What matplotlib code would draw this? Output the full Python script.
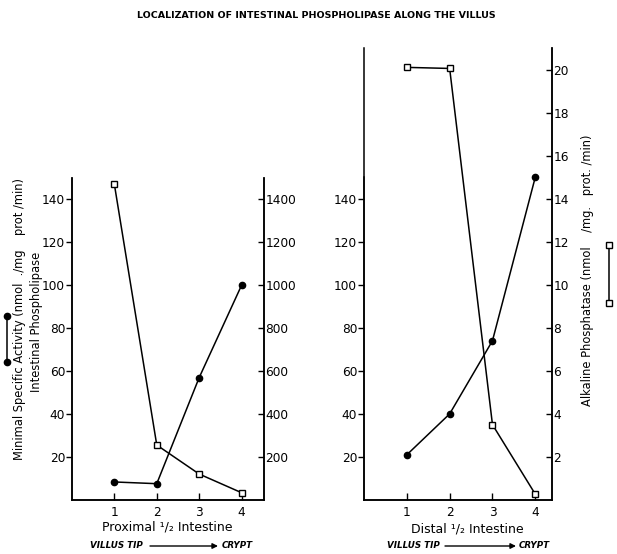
import matplotlib
matplotlib.use("Agg")
import matplotlib.pyplot as plt
from matplotlib.lines import Line2D
from matplotlib.patches import FancyArrowPatch

# data
segments = [1, 2, 3, 4]
prox_phospholipase = [8.4, 7.6, 57, 100]        # left axis, filled circles
prox_alk_phos = [1470, 256, 121, 34]            # right axis, open squares
dist_phospholipase = [21, 40, 74, 150]          # left axis, filled circles
dist_alk_phos = [20.1, 20.05, 3.5, 0.27]        # right axis, open squares

left_ticks = [20, 40, 60, 80, 100, 120, 140]
prox_right_ticks = [200, 400, 600, 800, 1000, 1200, 1400]
dist_right_ticks = [2, 4, 6, 8, 10, 12, 14, 16, 18, 20]

plt.rcParams['font.family'] = ['DejaVu Sans']
plt.rcParams['font.size'] = 8.7

W, H = 617, 554
fig = plt.figure(figsize=(W / 100, H / 100), dpi=100)


def fx(px):
    return px / W


def fy(py):
    return 1 - py / H


def style(ax, twin):
    ax.spines['top'].set_visible(False)
    twin.spines['top'].set_visible(False)
    for a in (ax, twin):
        a.spines[:].set_linewidth(1.1)
    ax.tick_params(axis='y', direction='out', length=4, width=1, pad=1)
    ax.tick_params(axis='x', direction='in', length=5, width=1, pad=4)
    twin.tick_params(axis='y', direction='in', length=4, width=1, pad=1)
    ax.set_xticks(segments)


def draw(ax, twin, closed, opened):
    ax.plot(segments, closed, color='black', lw=1.1, marker='o', ms=4.5,
            mfc='black', mec='black', clip_on=False, zorder=3)
    twin.plot(segments, opened, color='black', lw=1.1, marker='s', ms=4,
              mfc='white', mec='black', mew=1, clip_on=False, zorder=3)


# proximal panel
ax1 = fig.add_axes([fx(72), fy(500), fx(264 - 72), (500 - 178) / H])
tw1 = ax1.twinx()
ax1.set_xlim(0, 4.53)
ax1.set_ylim(0, 150)
tw1.set_ylim(0, 1500)
ax1.set_yticks(left_ticks)
tw1.set_yticks(prox_right_ticks)
style(ax1, tw1)
draw(ax1, tw1, prox_phospholipase, prox_alk_phos)

# distal panel
ax2 = fig.add_axes([fx(364), fy(500), fx(552 - 364), (500 - 48) / H])
tw2 = ax2.twinx()
ax2.set_xlim(0, 4.39)
ax2.set_ylim(0, 210)
tw2.set_ylim(0, 21)
ax2.spines['left'].set_bounds(0, 150)
ax2.set_yticks(left_ticks)
tw2.set_yticks(dist_right_ticks)
style(ax2, tw2)
draw(ax2, tw2, dist_phospholipase, dist_alk_phos)

fig.text(fx(316), fy(15), 'LOCALIZATION OF INTESTINAL PHOSPHOLIPASE ALONG THE VILLUS',
         ha='center', va='center', fontsize=6.8, fontweight='bold',
         family='Liberation Sans Narrow')

# axis titles
fig.text(fx(20), fy(319), 'Minimal Specific Activity (nmol  ./mg    prot /min)',
         rotation=90, ha='center', va='center', fontsize=8.3)
fig.text(fx(37), fy(322), 'Intestinal Phospholipase',
         rotation=90, ha='center', va='center', fontsize=8.3)
fig.text(fx(587), fy(270), 'Alkaline Phosphatase (nmol    /mg.   prot. /min)',
         rotation=90, ha='center', va='center', fontsize=8.3)

# symbol keys
fig.add_artist(Line2D([fx(7), fx(7)], [fy(316), fy(362)], color='black', lw=1.1,
                      marker='o', ms=4.5, mfc='black'))
fig.add_artist(Line2D([fx(609), fx(609)], [fy(245), fy(303)], color='black', lw=1.1,
                      marker='s', ms=4, mfc='white', mew=1))

# x captions
fig.text(fx(167), fy(527), 'Proximal \u00b9/\u2082 Intestine', ha='center', va='center',
         fontsize=9)
fig.text(fx(467), fy(529), 'Distal \u00b9/\u2082 Intestine', ha='center', va='center',
         fontsize=9)

# (text start, arrow start, arrow end, text end) in pixels
for x0, a0, a1, x1 in [(90, 150, 218, 253), (387, 445, 516, 550)]:
    fig.text(fx(x0), fy(546), 'VILLUS TIP', ha='left', va='center', fontsize=6.3,
             fontweight='bold', style='italic', family='Liberation Sans Narrow')
    fig.text(fx(x1), fy(546), 'CRYPT', ha='right', va='center', fontsize=6.3,
             fontweight='bold', style='italic', family='Liberation Sans Narrow')
    fig.add_artist(FancyArrowPatch(
        (fx(a0), fy(546)), (fx(a1), fy(546)), transform=fig.transFigure,
        arrowstyle='-|>', mutation_scale=8, color='black', lw=1,
        shrinkA=0, shrinkB=0))

fig.savefig('out.png', dpi=100)
